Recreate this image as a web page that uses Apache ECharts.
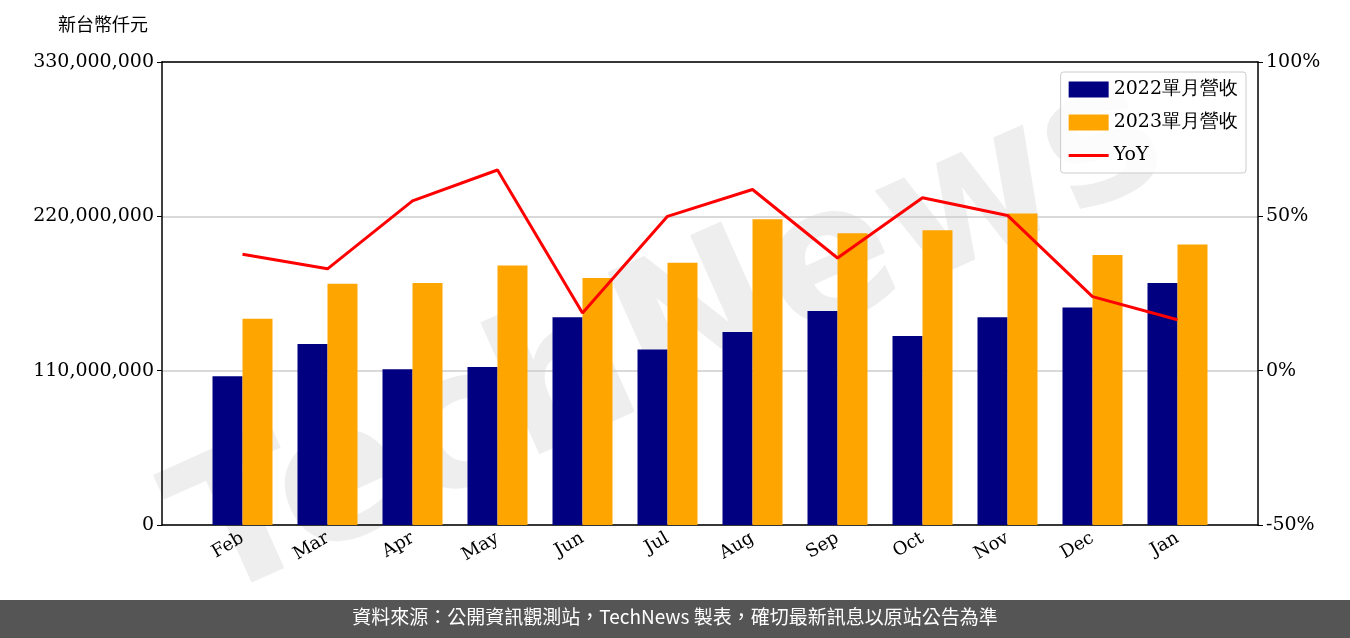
<!DOCTYPE html>
<html><head><meta charset="utf-8">
<script src="https://cdn.jsdelivr.net/npm/echarts@6/dist/echarts.min.js"></script>
<style>html,body{margin:0;padding:0;background:#fff}#c{width:1350px;height:638px}</style>
</head><body><div id="c"></div>
<script>
const categories=['Feb','Mar','Apr','May','Jun','Jul','Aug','Sep','Oct','Nov','Dec','Jan'];
const rev2022=[106e6,129e6,111e6,112.6e6,148e6,125e6,137.5e6,152.5e6,134.7e6,148e6,155e6,172.5e6];
const rev2023=[147e6,172e6,172.5e6,185e6,176e6,187e6,218e6,208e6,210e6,222e6,192.5e6,200e6];
const yoy=[37.7,33,55,65,18.7,50,58.7,36.5,56,50.3,24,16.5];
const F='DejaVu Serif';
const blk={color:'#000',width:1.5};
const chart=echarts.init(document.getElementById('c'));
chart.setOption({
 animation:false,
 grid:[{left:162,right:92,top:62,bottom:113},{left:200,right:130,top:62,bottom:113}],
 graphic:[
  {type:'text',left:58,top:15,style:{text:'新台幣仟元',font:'18px "Noto Sans CJK TC"',fill:'#000'}},
  {type:'text',x:150,y:470,rotation:0.42,z:-1,style:{text:'TechNews',font:'bold 190px "DejaVu Sans"',fill:'rgba(200,200,200,0.3)'}},
  {type:'rect',left:0,top:600,shape:{width:1350,height:38},style:{fill:'#555'}},
  {type:'text',left:'center',top:607,style:{text:'資料來源：公開資訊觀測站，TechNews 製表，確切最新訊息以原站公告為準',font:'19px "Noto Sans CJK TC"',fill:'#fff'}}
 ],
 legend:{right:104,top:72,orient:'vertical',itemWidth:40,itemHeight:16,itemGap:14,padding:[8,8,8,8],
  borderColor:'#ccc',borderWidth:1,borderRadius:3,backgroundColor:'rgba(255,255,255,0.8)',
  textStyle:{fontFamily:F,fontSize:19,color:'#000'},
  data:[{name:'2022單月營收',icon:'rect'},{name:'2023單月營收',icon:'rect'},{name:'YoY',icon:'path://M0,7h40v3h-40z'}]},
 xAxis:[
  {type:'category',gridIndex:0,data:[''],axisLine:{onZero:false,lineStyle:blk},axisTick:{show:false},axisLabel:{show:false}},
  {type:'category',gridIndex:0,position:'top',data:[''],axisLine:{onZero:false,lineStyle:blk},axisTick:{show:false},axisLabel:{show:false}},
  {type:'category',gridIndex:1,data:categories,axisLine:{show:false,onZero:false},
   axisTick:{alignWithLabel:true,length:6,lineStyle:{color:'#000'}},
   axisLabel:{rotate:30,fontFamily:F,fontSize:18,color:'#000',margin:12}}
 ],
 yAxis:[
  {type:'value',gridIndex:0,min:0,max:330e6,interval:110e6,axisLine:{show:true,lineStyle:blk},
   axisTick:{show:true,lineStyle:{color:'#000'}},splitLine:{lineStyle:{color:'#ccc',width:1.5}},
   axisLabel:{fontFamily:F,fontSize:19,color:'#000',formatter:v=>v.toLocaleString('en-US')}},
  {type:'value',gridIndex:0,min:-50,max:100,interval:50,axisLine:{show:true,lineStyle:blk},
   axisTick:{show:true,lineStyle:{color:'#000'}},splitLine:{show:false},
   axisLabel:{fontFamily:F,fontSize:19,color:'#000',formatter:'{value}%'}},
  {type:'value',gridIndex:1,min:0,max:330e6,show:false,splitLine:{show:false}},
  {type:'value',gridIndex:1,min:-50,max:100,show:false,splitLine:{show:false}}
 ],
 series:[
  {name:'2022單月營收',type:'bar',xAxisIndex:2,yAxisIndex:2,data:rev2022,barWidth:30,barGap:'0%',itemStyle:{color:'#000080'}},
  {name:'2023單月營收',type:'bar',xAxisIndex:2,yAxisIndex:2,data:rev2023,barWidth:30,itemStyle:{color:'#FFA500'}},
  {name:'YoY',type:'line',xAxisIndex:2,yAxisIndex:3,data:yoy,symbol:'none',lineStyle:{color:'#ff0000',width:3},itemStyle:{color:'#ff0000'}}
 ]
});
</script></body></html>
